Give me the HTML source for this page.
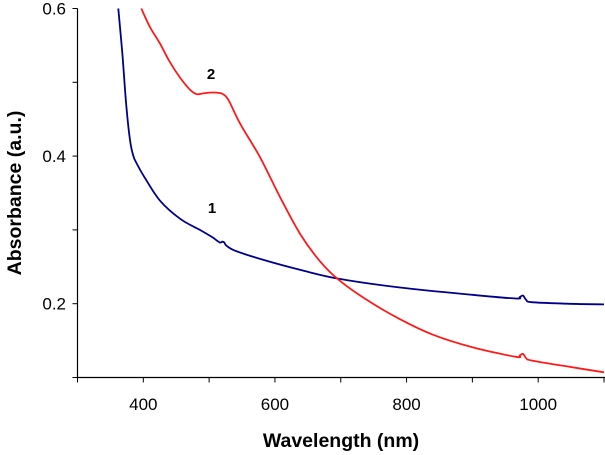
<!DOCTYPE html>
<html><head><meta charset="utf-8">
<style>
html,body{margin:0;padding:0;background:#fff;}
svg{display:block;font-family:"Liberation Sans",Arial,sans-serif;}
</style></head>
<body>
<svg id="chart" width="605" height="455" viewBox="0 0 605 455">
  <g id="axes"></g>
  <g id="series"></g>
  <text x="211" y="79" font-size="15" font-weight="bold" text-anchor="middle">2</text>
  <text x="212" y="213" font-size="15" font-weight="bold" text-anchor="middle">1</text>
  <text x="341" y="447" font-size="19.5" font-weight="bold" text-anchor="middle">Wavelength (nm)</text>
  <text transform="translate(21,193) rotate(-90)" font-size="19.5" font-weight="bold" text-anchor="middle">Absorbance (a.u.)</text>
</svg>
<script>
const xTicks = [400, 600, 800, 1000];
const xMinorTicks = [300, 500, 700, 900, 1100];
const yTicks = [0.2, 0.4, 0.6];
const yMinorTicks = [0.1, 0.3, 0.5];
const wl1 = [362, 368, 374, 380, 385, 390, 400, 425, 456, 486, 505, 516, 520, 523, 526, 539, 580, 638, 696, 790, 900, 966, 972, 977, 982, 990, 1044, 1100];
const abs1 = [0.6, 0.54, 0.47, 0.42, 0.40, 0.39, 0.374, 0.34, 0.315, 0.30, 0.29, 0.283, 0.284, 0.283, 0.279, 0.272, 0.26, 0.246, 0.234, 0.222, 0.212, 0.207, 0.209, 0.211, 0.205, 0.202, 0.2, 0.199];
const wl2 = [397, 410, 425, 440, 456, 471, 481, 491, 501, 511, 521, 530, 547, 577, 608, 638, 668, 696, 740, 790, 840, 900, 966, 972, 977, 982, 990, 1044, 1100];
const abs2 = [0.6, 0.575, 0.553, 0.528, 0.506, 0.49, 0.484, 0.485, 0.486, 0.486, 0.484, 0.475, 0.444, 0.399, 0.344, 0.295, 0.258, 0.233, 0.205, 0.179, 0.158, 0.141, 0.128, 0.13, 0.132, 0.126, 0.123, 0.115, 0.107];

const NS = 'http://www.w3.org/2000/svg';
const X0 = 77.5, X1 = 604, Y0 = 377.5, Y1 = 8.5;
const xs = v => X0 + (v - 300) / 800 * (X1 - X0);
const ys = v => Y0 - (v - 0.1) / 0.5 * (Y0 - Y1);
function mk(tag, attrs, parent) {
  const e = document.createElementNS(NS, tag);
  for (const k in attrs) e.setAttribute(k, attrs[k]);
  parent.appendChild(e);
  return e;
}
const axes = document.getElementById('axes');
let el = mk('line', {x1: X0, y1: Y1, x2: X0, y2: Y0, stroke: '#000', 'stroke-width': 1.2}, axes);


el = mk('line', {x1: X0, y1: Y0, x2: X1 + 1, y2: Y0, stroke: '#000', 'stroke-width': 1.2}, axes);


xTicks.concat(xMinorTicks).forEach(v => {
  const t = mk('line', {x1: xs(v), y1: Y0, x2: xs(v), y2: Y0 + 5, stroke: '#000', 'stroke-width': 1}, axes);
  
  
});
xTicks.forEach(v => {
  const t = mk('text', {x: xs(v), y: 410, 'font-size': 17, 'text-anchor': 'middle'}, axes);
  t.textContent = String(v);
  
  
});
yTicks.concat(yMinorTicks).forEach(v => {
  const t = mk('line', {x1: X0 - 5, y1: ys(v), x2: X0, y2: ys(v), stroke: '#000', 'stroke-width': 1}, axes);
  
  
});
yTicks.forEach(v => {
  const t = mk('text', {x: 66, y: ys(v) + 6, 'font-size': 17, 'text-anchor': 'end'}, axes);
  t.textContent = v.toFixed(1);
  
  
});
const series = document.getElementById('series');
function line(wl, ab, color, name) {
  const P = wl.map((w, i) => [xs(w), ys(ab[i])]);
  let d = 'M' + P[0][0].toFixed(1) + ',' + P[0][1].toFixed(1);
  for (let i = 0; i < P.length - 1; i++) {
    const p0 = P[Math.max(0, i - 1)], p1 = P[i], p2 = P[i + 1], p3 = P[Math.min(P.length - 1, i + 2)];
    const c1 = [p1[0] + (p2[0] - p0[0]) / 6, p1[1] + (p2[1] - p0[1]) / 6];
    const c2 = [p2[0] - (p3[0] - p1[0]) / 6, p2[1] - (p3[1] - p1[1]) / 6];
    d += ' C' + c1[0].toFixed(1) + ',' + c1[1].toFixed(1) + ' ' + c2[0].toFixed(1) + ',' + c2[1].toFixed(1) + ' ' + p2[0].toFixed(1) + ',' + p2[1].toFixed(1);
  }
  const p = mk('path', {d: d, fill: 'none', stroke: color, 'stroke-width': 1.8, 'stroke-linejoin': 'round'}, series);
  
  
}
line(wl1, abs1, '#00008b', 'series-1-line');
line(wl2, abs2, '#ff1a1a', 'series-2-line');
</script>
</body></html>
